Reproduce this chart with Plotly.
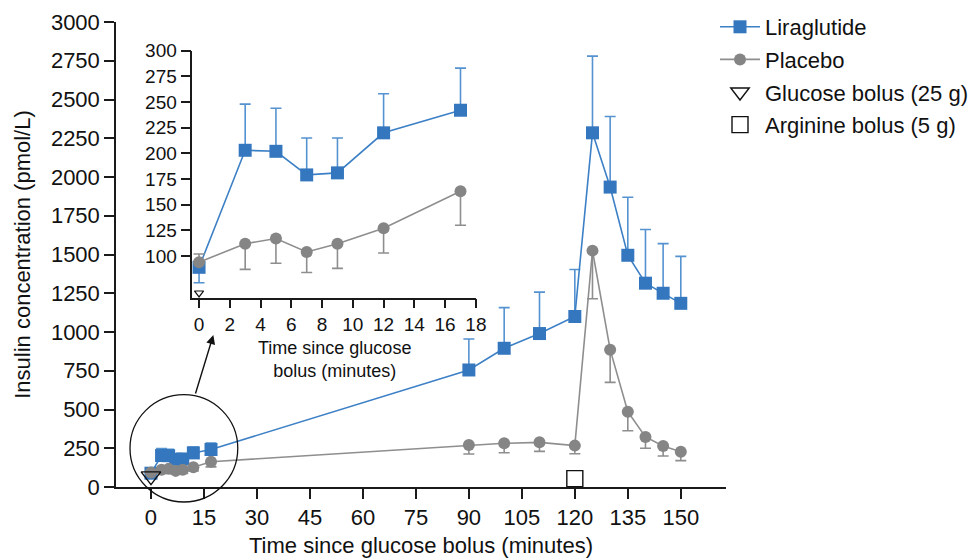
import plotly.graph_objects as go

# ---------------- data ----------------
times = [0, 3, 5, 7, 9, 12, 17, 90, 100, 110, 120, 125, 130, 135, 140, 145, 150]
lira = [89, 203, 202, 179, 181, 220, 242, 755, 895, 990, 1100, 2285, 1935, 1495, 1315, 1250, 1185]
lira_err_up = [0, 45, 42, 36, 34, 38, 41, 200, 262, 267, 303, 495, 455, 374, 346, 320, 303]
lira_err_down = [15, 0, 0, 0, 0, 0, 0, 0, 0, 0, 0, 0, 0, 0, 0, 0, 0]
placebo = [94, 112, 117, 104, 112, 127, 163, 271, 282, 288, 267, 1525, 886, 486, 323, 265, 228]
placebo_err_down = [0, 25, 24, 20, 24, 24, 33, 58, 61, 58, 52, 310, 211, 123, 73, 65, 58]
placebo_err_up = [8, 0, 0, 0, 0, 0, 0, 0, 0, 0, 0, 0, 0, 0, 0, 0, 0]

inset_n = 7  # first 7 time points (0-17 min) shown in the inset

glucose_bolus_time = [0]
glucose_marker_level_main = [70]
glucose_marker_level_inset = [64]
arginine_bolus_time = [120]
arginine_marker_level = [54]

x_ticks_main = list(range(0, 151, 15))
y_ticks_main = list(range(0, 3001, 250))
x_ticks_inset = list(range(0, 19, 2))
y_ticks_inset = list(range(100, 301, 25))

# ---------------- style ----------------
BLUE = "#3477be"
BLUE_ERR = "#5592d0"
BLUE_LINE = "#3d80c6"
GRAY = "#858585"
GRAY_LINE = "#8e8e8e"
FONT = "Liberation Sans, Arial, Helvetica, sans-serif"

W, H = 975, 560
L, R, T, B = 116, 725.7, 22, 487  # main plot area in pixels


def px_x(px):
    return (px - L) / (R - L)


def px_y(py):
    return (B - py) / (B - T)


fig = go.Figure()


def add_series(xa, ya, n, show):
    xs = times[:n] if n else times
    sl = slice(0, n) if n else slice(None)
    fig.add_trace(go.Scatter(
        x=xs, y=lira[sl], mode="lines+markers", name="Liraglutide",
        legendgroup="lira", showlegend=show, xaxis=xa, yaxis=ya,
        cliponaxis=False,
        line=dict(color=BLUE_LINE, width=1.6),
        marker=dict(symbol="square", size=13, color=BLUE),
        error_y=dict(type="data", symmetric=False, array=lira_err_up[sl],
                     arrayminus=lira_err_down[sl], color=BLUE_ERR,
                     thickness=1.6, width=5.5),
    ))
    fig.add_trace(go.Scatter(
        x=xs, y=placebo[sl], mode="lines+markers", name="Placebo",
        legendgroup="placebo", showlegend=show, xaxis=xa, yaxis=ya,
        cliponaxis=False,
        line=dict(color=GRAY_LINE, width=1.6),
        marker=dict(symbol="circle", size=12, color=GRAY),
        error_y=dict(type="data", symmetric=False, array=placebo_err_up[sl],
                     arrayminus=placebo_err_down[sl], color=GRAY_LINE,
                     thickness=1.6, width=5.5),
    ))


# main chart
add_series("x", "y", None, True)
fig.add_trace(go.Scatter(
    x=glucose_bolus_time, y=glucose_marker_level_main, mode="markers",
    name="Glucose bolus (25 g)", legendgroup="glucose", cliponaxis=False,
    marker=dict(symbol="triangle-down-open", size=17, color="#111111",
                line=dict(width=1.4)),
))
fig.add_trace(go.Scatter(
    x=arginine_bolus_time, y=arginine_marker_level, mode="markers",
    name="Arginine bolus (5 g)", legendgroup="arginine", cliponaxis=False,
    marker=dict(symbol="square-open", size=16, color="#111111",
                line=dict(width=1.4)),
))

# inset
add_series("x2", "y2", inset_n, False)
fig.add_trace(go.Scatter(
    x=glucose_bolus_time, y=glucose_marker_level_inset, mode="markers",
    legendgroup="glucose", showlegend=False, xaxis="x2", yaxis="y2",
    cliponaxis=False,
    marker=dict(symbol="triangle-down-open", size=8, color="#111111",
                line=dict(width=1.2)),
))

axis_common = dict(
    showline=True, linecolor="#1a1a1a", linewidth=1.5,
    ticks="outside", ticklen=10, tickwidth=1.5, tickcolor="#1a1a1a",
    showgrid=False, zeroline=False, automargin=False,
)

# inset geometry (pixels)
IL, IR, IT, IB = 192.3, 475.7, 50.7, 297.7

fig.update_layout(
    width=W, height=H,
    margin=dict(l=L, r=W - R, t=T, b=H - B, pad=0, autoexpand=False),
    paper_bgcolor="white", plot_bgcolor="rgba(0,0,0,0)",
    font=dict(family=FONT, size=22, color="#111111"),
    xaxis=dict(**axis_common, range=[-9.9, 162.8], tickvals=x_ticks_main,
               tickfont=dict(size=22),
               title=dict(text="Time since glucose bolus (minutes)",
                          font=dict(size=22), standoff=8)),
    yaxis=dict(**axis_common, range=[0, 3000], tickvals=y_ticks_main,
               tickfont=dict(size=22),
               title=dict(text="Insulin concentration (pmol/L)",
                          font=dict(size=22), standoff=14)),
    xaxis2=dict(**dict(axis_common, ticklen=9), anchor="y2",
                domain=[px_x(IL), px_x(IR)],
                range=[-0.436, 18], tickvals=x_ticks_inset,
                tickfont=dict(size=19)),
    yaxis2=dict(**axis_common, anchor="x2",
                domain=[px_y(IB), px_y(IT)],
                range=[59.4, 300], tickvals=y_ticks_inset,
                tickfont=dict(size=19)),
    legend=dict(xref="container", yref="container",
                x=715 / W, y=1 - 6 / H, xanchor="left", yanchor="top",
                font=dict(size=22), bgcolor="rgba(0,0,0,0)",
                itemwidth=40, traceorder="grouped", tracegroupgap=1),
    showlegend=True,
)

# inset x-axis title (two lines, one text)
fig.add_annotation(text="Time since glucose<br>bolus (minutes)",
                   xref="paper", yref="paper",
                   x=px_x(334), y=px_y(359), showarrow=False,
                   font=dict(size=18), xanchor="center", yanchor="middle",
                   align="center")

# magnifier circle and arrow
fig.add_shape(type="circle", xref="paper", yref="paper",
              x0=px_x(130), x1=px_x(237.7), y0=px_y(502), y1=px_y(394.7),
              line=dict(color="#111111", width=1.3), layer="above")
fig.add_annotation(text="", xref="paper", yref="paper",
                   x=px_x(213.3), y=px_y(335), ax=195 - 213.3, ay=395 - 335,
                   showarrow=True, arrowhead=2, arrowsize=1.3, arrowwidth=1.4,
                   arrowcolor="#111111")

fig.write_html("out.html", config={"displayModeBar": False})

# remove the browser's default page margin so the figure sits at (0, 0)
with open("out.html", "r", encoding="utf-8") as f:
    html = f.read()
html = html.replace("<head>", "<head><style>html,body{margin:0;padding:0;}</style>", 1)
with open("out.html", "w", encoding="utf-8") as f:
    f.write(html)
